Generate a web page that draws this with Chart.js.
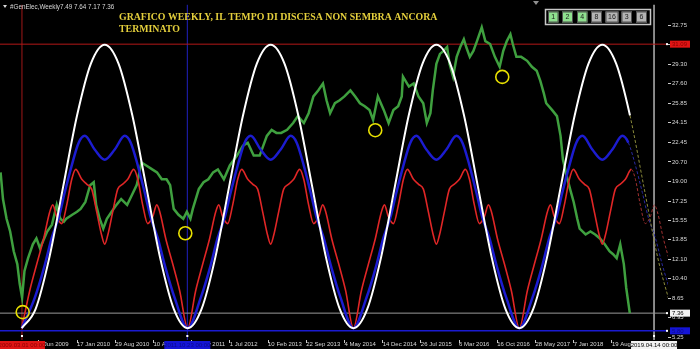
<!DOCTYPE html>
<html>
<head>
<meta charset="utf-8">
<script src="https://cdn.jsdelivr.net/npm/chart.js@4.4.1/dist/chart.umd.min.js"></script>
<style>
  html, body { margin: 0; padding: 0; background: #000; overflow: hidden; }
</style>
</head>
<body>
<canvas id="chart" width="700" height="349"></canvas>
<script>
// x unit = weekly bar, week 0 = 17 Jan 2010
const priceWeeks = [-64, -62, -59, -56, -53, -50, -48, -46, -44, -41, -37, -34, -31, -25, -21, -17, -14, -11, -9, -4,
  0, 3, 7, 11, 14, 16, 19, 22, 25, 29, 33, 37, 42, 46, 50, 54, 58, 63, 67, 71, 75, 78, 81, 85, 89, 92, 95, 97,
  102, 106, 110, 114, 118, 123, 128, 134, 139, 143, 148, 153, 159, 163, 167, 171, 176, 181, 185, 190, 194, 198,
  202, 206, 209, 212, 216, 220, 224, 229, 233, 237, 241, 245, 248, 252, 257, 261, 265, 269, 272, 273, 278, 282,
  286, 290, 293, 296, 298, 301, 304, 307, 310, 312, 315, 318, 321, 324, 326, 329, 332, 335, 339, 342, 346, 350,
  354, 357, 360, 363, 365, 368, 372, 377, 381, 385, 388, 391, 393, 398, 402, 405, 407, 410, 413, 416, 419, 421,
  426, 430, 434, 438, 442, 446, 449, 452, 455, 458, 460, 463];
const priceValues = [19.78, 17.43, 15.69, 14.56, 12.82, 11.69, 9.95, 8.73, 11.08, 12.21, 13.43, 13.95, 13.08, 14.56, 15.17, 16.91, 15.69, 15.43, 15.69, 16.04,
  16.30, 16.56, 17.17, 18.65, 18.91, 16.91, 15.69, 14.82, 15.69, 16.30, 16.91, 17.43, 16.91, 17.78, 18.65, 20.65, 20.39, 20.04, 19.78, 19.17, 19.17, 18.65, 16.56, 16.04, 15.69, 16.30, 15.69, 16.56,
  18.30, 18.91, 19.17, 19.78, 20.04, 19.17, 20.39, 21.26, 22.13, 22.39, 21.26, 21.26, 23.00, 23.53, 23.26, 23.26, 23.53, 24.13, 24.74, 24.13, 25.00, 26.48,
  27.01, 27.62, 26.14, 25.00, 25.88, 26.14, 26.48, 27.01, 26.48, 25.88, 25.61, 25.27, 24.40, 26.48, 25.27, 24.13, 25.27, 25.61, 26.48, 28.22, 27.35, 27.62,
  26.48, 25.88, 24.13, 25.00, 27.01, 29.36, 30.23, 30.49, 30.84, 29.36, 28.22, 29.97, 30.84, 31.53, 30.84, 29.97, 30.49, 31.36, 32.58, 31.36, 31.10, 29.97,
  29.09, 30.49, 31.36, 31.97, 31.10, 29.97, 29.97, 29.62, 29.09, 28.75, 27.88, 26.75, 25.88, 25.27, 24.74, 23.00, 20.91, 19.52, 18.30, 17.17, 15.69, 14.82,
  14.30, 14.56, 14.30, 13.95, 13.43, 12.82, 12.56, 12.21, 13.43, 11.69, 9.60, 7.36];

// cycle troughs and one cycle of each curve
const cycleTroughs = [-46.3, 92.7, 231.5, 370.5];
const whiteOffsets = [0, 11.58, 23.17, 34.75, 46.33, 57.92, 69.5, 81.08, 92.67, 104.25, 115.83, 127.42];
const whiteValues = [6.03, 7.71, 12.28, 18.54, 24.79, 29.37, 31.04, 29.37, 24.79, 18.54, 12.28, 7.71];
const blueOffsets = [0, 10.9, 19.3, 25.1, 31.0, 36.0, 41.9, 47.7, 52.8, 61.1, 69.5, 77.9, 86.3, 91.3, 97.2, 103.0, 108.0, 113.9, 119.8, 128.1];
const blueValues = [6.03, 8.7, 11.6, 14.0, 15.8, 18.0, 20.4, 22.4, 23.0, 21.8, 20.9, 21.8, 23.0, 22.4, 20.4, 18.0, 15.8, 14.0, 11.6, 8.7];
const redOffsets = [0, 6.7, 12.6, 18.4, 23.5, 26.0, 29.3, 33.5, 37.7, 41.9, 45.2, 50.3, 54.4, 58.6, 62.8, 67.0, 69.5,
  72.0, 76.2, 80.4, 84.6, 88.8, 93.8, 97.2, 101.3, 105.5, 109.7, 113.1, 115.6, 120.6, 126.5, 132.3];
const redValues = [6.03, 9.34, 11.69, 13.95, 16.30, 16.91, 15.87, 15.26, 16.91, 19.17, 20.04, 19.17, 18.74, 18.30, 16.30, 14.21, 13.45,
  14.21, 16.30, 18.30, 18.74, 19.17, 20.04, 19.17, 16.91, 15.26, 15.87, 16.91, 16.30, 13.95, 11.69, 9.34];

// yellow circles
const circleWeeks = [-45.5, 90.7, 249.8, 356.2];
const circleValues = [7.45, 14.41, 23.50, 28.20];

const xTickWeeks = [-32, 0, 32, 64, 96, 128, 160, 192, 224, 256, 288, 320, 352, 384, 416, 448];
const xTickLabels = ["7 Jun 2009", "17 Jan 2010", "29 Aug 2010", "10 Apr 2011", "20 Nov 2011", "1 Jul 2012",
  "10 Feb 2013", "22 Sep 2013", "4 May 2014", "14 Dec 2014", "26 Jul 2015", "6 Mar 2016", "16 Oct 2016",
  "28 May 2017", "7 Jan 2018", "19 Aug 2018"];
const yTicks = [32.75, 31.05, 29.30, 27.60, 25.85, 24.15, 22.45, 20.70, 19.00, 17.25, 15.55, 13.85, 12.10, 10.40, 8.65, 6.95, 5.25];

const lastBar = 463;
const redLevel = 31.09, bidLevel = 7.36, blueLevel = 5.80;
const redLineWeek = -46.1, blueLineWeek = 92.4, greyLineWeek = 483.3;
const redLineLabel = "2009.03.01 00:00", blueLineLabel = "2011.10.23 00:00", greyLineLabel = "2019.04.14 00:00";
const xMin = -64.5, xMax = 495;
const yMin = 4.99, yMax = 34.58;

//Construye la serie de un ciclo repetido en cada minimo
function cyclePoints(offsets, values) {
  const pts = [];
  cycleTroughs.forEach(t => {
    offsets.forEach((o, i) => {
      if (t + o <= xMax + 20) pts.push({ x: t + o, y: values[i] });
    });
  });
  return pts;
}

function hLine(v) { return [{ x: xMin, y: v }, { x: xMax, y: v }]; }
function vLine(w) { return [{ x: w, y: yMin }, { x: w, y: yMax }]; }

const projected = (solid, dash) => ({
  borderDash: ctx => ctx.p0.parsed.x >= lastBar - 2 ? [3, 2] : undefined,
  borderColor: ctx => ctx.p0.parsed.x >= lastBar - 2 ? dash : solid,
  borderWidth: ctx => ctx.p0.parsed.x >= lastBar - 2 ? 1 : undefined,
});

const refLine = (data, color, width) => ({
  data, borderColor: color, borderWidth: width, pointRadius: 0, order: 10,
});

const small = { family: "Liberation Sans", size: 6 };

//Dibuja fondo, textos, botones y etiquetas de las lineas
const decor = {
  id: "decor",
  beforeDraw(chart) {
    const c = chart.ctx;
    c.save();
    c.fillStyle = "#000";
    c.fillRect(0, 0, chart.width, chart.height);
    c.restore();
  },
  afterDraw(chart) {
    const c = chart.ctx;
    const xs = chart.scales.x, ys = chart.scales.y;
    c.save();

    // header
    c.fillStyle = "#d8d8d8";
    c.beginPath();
    c.moveTo(3, 5); c.lineTo(7, 5); c.lineTo(5, 8); c.closePath(); c.fill();
    c.font = "6.3px 'Liberation Sans'";
    c.textBaseline = "alphabetic";
    c.fillText("#GenElec,Weekly", 10, 9);
    c.fillText("7.49 7.64 7.17 7.36", 60, 9);

    // annotation
    c.fillStyle = "#e4cf3c";
    c.font = "bold 9.85px 'Liberation Serif'";
    c.fillText("GRAFICO WEEKLY, IL TEMPO DI DISCESA NON SEMBRA ANCORA", 119, 20);
    c.fillText("TERMINATO", 119, 32);

    // shift marker
    c.fillStyle = "#909090";
    c.beginPath();
    c.moveTo(533, 1); c.lineTo(539, 1); c.lineTo(536, 5); c.closePath(); c.fill();

    // period buttons
    c.strokeStyle = "#c8c8c8";
    c.lineWidth = 1.5;
    c.strokeRect(545.5, 9.5, 105, 15);
    const btn = [["1", 548, 10.5, true], ["2", 562, 11, true], ["4", 577, 10.5, true], ["8", 591, 11, false],
      ["16", 605.5, 13, false], ["3", 621.5, 10.5, false], ["6", 636, 11, false]];
    c.lineWidth = 1;
    c.font = "7px 'Liberation Sans'";
    c.textAlign = "center";
    c.textBaseline = "middle";
    btn.forEach(([t, x, w, on]) => {
      c.fillStyle = on ? "#8ee08e" : "#b4b4b4";
      c.fillRect(x, 11.5, w, 11);
      c.strokeStyle = "#505050";
      c.strokeRect(x + 0.5, 12, w - 1, 10);
      c.fillStyle = "#1a1a1a";
      c.fillText(t, x + w / 2, 17.5);
    });

    // price labels on the right
    const priceBox = (v, text, fill, ink) => {
      const py = ys.getPixelForValue(v);
      c.fillStyle = fill;
      c.fillRect(670, py - 3.5, 20, 7);
      c.fillStyle = ink;
      c.font = "6px 'Liberation Sans'";
      c.textAlign = "left";
      c.fillText(text, 672, py + 0.5);
      c.fillStyle = "#ffffff";
      c.fillRect(666, py - 1, 2, 2);
    };
    priceBox(redLevel, redLevel.toFixed(2), "#e01414", "#8a0000");
    priceBox(bidLevel, bidLevel.toFixed(2), "#f2f2f2", "#000");
    priceBox(blueLevel, blueLevel.toFixed(2), "#1414d6", "#0a0a8a");

    // date labels at the bottom
    const dateBox = (w, text, fill, ink) => {
      const px = xs.getPixelForValue(w);
      c.fillStyle = "#ffffff";
      c.fillRect(px - 1, 335, 2, 2);
      c.fillStyle = fill;
      c.fillRect(px - 23, 341, 46, 8);
      c.fillStyle = ink;
      c.font = "6px 'Liberation Sans'";
      c.textAlign = "center";
      c.fillText(text, px, 345.5);
    };
    dateBox(redLineWeek, redLineLabel, "#e01414", "#8a0000");
    dateBox(blueLineWeek, blueLineLabel, "#1414d6", "#0a0a8a");
    dateBox(greyLineWeek, greyLineLabel, "#f2f2f2", "#000");
    c.restore();
  },
};

new Chart(document.getElementById("chart"), {
  type: "line",
  data: {
    datasets: [
      {
        type: "scatter",
        data: circleWeeks.map((w, i) => ({ x: w, y: circleValues[i] })),
        showLine: false,
        pointStyle: "circle",
        pointRadius: 6.5,
        pointBorderWidth: 1.6,
        pointBorderColor: "#e8e000",
        pointBackgroundColor: "rgba(0,0,0,0)",
        order: 1,
      },
      {
        data: cyclePoints(whiteOffsets, whiteValues),
        borderColor: "#ffffff",
        borderWidth: 2,
        pointRadius: 0,
        cubicInterpolationMode: "monotone",
        segment: projected("#ffffff", "#8a8a3a"),
        order: 2,
      },
      {
        data: cyclePoints(blueOffsets, blueValues),
        borderColor: "#1c1cd0",
        borderWidth: 2.5,
        pointRadius: 0,
        cubicInterpolationMode: "monotone",
        segment: projected("#1c1cd0", "#2a2aa0"),
        order: 3,
      },
      {
        data: cyclePoints(redOffsets, redValues),
        borderColor: "#e02626",
        borderWidth: 1.6,
        pointRadius: 0,
        cubicInterpolationMode: "monotone",
        segment: projected("#e02626", "#a03030"),
        order: 4,
      },
      {
        data: priceWeeks.map((w, i) => ({ x: w, y: priceValues[i] })),
        borderColor: "#3fa03f",
        borderWidth: 2.5,
        pointRadius: 0,
        tension: 0,
        order: 5,
      },
      refLine(hLine(redLevel), "#b41818", 1),
      refLine(hLine(bidLevel), "#9a9a9a", 1),
      refLine(hLine(blueLevel), "#1a1ad0", 1.5),
      refLine(vLine(redLineWeek), "#a01818", 1),
      refLine(vLine(blueLineWeek), "#2020c0", 1),
      refLine(vLine(greyLineWeek), "#b4b4b4", 1.5),
    ],
  },
  options: {
    responsive: false,
    animation: false,
    events: [],
    devicePixelRatio: 1,
    layout: { padding: 0, autoPadding: false },
    plugins: { legend: { display: false }, tooltip: { enabled: false } },
    scales: {
      x: {
        type: "linear",
        min: xMin,
        max: xMax,
        afterBuildTicks: s => { s.ticks = xTickWeeks.map(v => ({ value: v })); },
        afterFit: s => { s.height = 9; },
        ticks: {
          callback: (v, i) => xTickLabels[i],
          color: "#d8d8d8",
          font: small,
          align: "start",
          autoSkip: false,
          maxRotation: 0,
          padding: -2,
        },
        grid: { drawOnChartArea: false, tickLength: 3, color: "#c8c8c8" },
        border: { display: false },
      },
      y: {
        position: "right",
        min: yMin,
        max: yMax,
        afterBuildTicks: s => { s.ticks = yTicks.map(v => ({ value: v })); },
        afterFit: s => { s.width = 32; },
        ticks: {
          callback: v => v.toFixed(2),
          color: "#d8d8d8",
          font: small,
          padding: 1,
        },
        grid: { drawOnChartArea: false, tickLength: 3, color: "#c8c8c8" },
        border: { display: false },
      },
    },
  },
  plugins: [decor],
});
</script>
</body>
</html>
